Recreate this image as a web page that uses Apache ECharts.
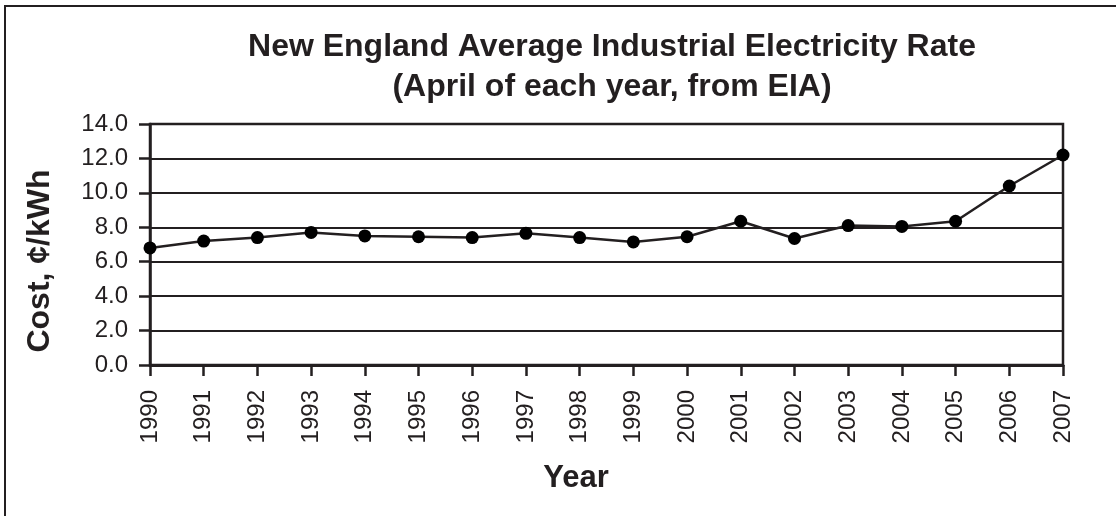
<!DOCTYPE html>
<html>
<head>
<meta charset="utf-8">
<script src="https://cdn.jsdelivr.net/npm/echarts@6/dist/echarts.min.js"></script>
<style>
html,body{margin:0;padding:0;background:#fff;}
#chart{width:1116px;height:516px;}
</style>
</head>
<body>
<div id="chart"></div>
<script>
const years = ['1990','1991','1992','1993','1994','1995','1996','1997','1998','1999','2000','2001','2002','2003','2004','2005','2006','2007'];
const costCents = [6.8, 7.2, 7.4, 7.7, 7.5, 7.45, 7.4, 7.65, 7.4, 7.15, 7.45, 8.35, 7.35, 8.1, 8.05, 8.35, 10.4, 12.2];
const titleText = 'New England Average Industrial Electricity Rate\n(April of each year, from EIA)';
const yAxisTitle = 'Cost, ¢/kWh';
const xAxisTitle = 'Year';

const ink = '#231f20';
const font = '"Liberation Sans", Arial, sans-serif';
const chart = echarts.init(document.getElementById('chart'));
chart.setOption({
  backgroundColor: '#ffffff',
  animation: false,
  title: {
    text: titleText,
    left: 612,
    top: 27,
    textAlign: 'center',
    padding: 0,
    textStyle: {fontFamily: font, fontSize: 32, fontWeight: 'bold', color: ink, lineHeight: 40, align: 'center'}
  },
  grid: {left: 150, right: 53, top: 124, bottom: 151, show: true, borderColor: ink, borderWidth: 2.5, backgroundColor: 'transparent'},
  xAxis: {
    type: 'category',
    data: years,
    boundaryGap: false,
    axisLine: {lineStyle: {color: ink, width: 3}},
    axisTick: {show: true, alignWithLabel: true, length: 11, inside: false, lineStyle: {color: ink, width: 2.5}},
    axisLabel: {rotate: 90, margin: 25, fontFamily: font, fontSize: 24, color: ink, interval: 0},
    splitLine: {show: false}
  },
  yAxis: {
    type: 'value',
    min: 0, max: 14, interval: 2,
    axisLine: {show: true, lineStyle: {color: ink, width: 2.5}},
    axisTick: {show: true, length: 11, lineStyle: {color: ink, width: 2.5}},
    axisLabel: {margin: 22, fontFamily: font, fontSize: 24, color: ink, formatter: v => v.toFixed(1)},
    splitLine: {show: true, lineStyle: {color: ink, width: 2}}
  },
  graphic: [
    {type: 'rect', shape: {x: 5, y: 6, width: 1200, height: 600}, style: {fill: 'none', stroke: ink, lineWidth: 2}, silent: true, z: 0},
    {type: 'text', x: 40, y: 261, rotation: Math.PI / 2,
      style: {text: yAxisTitle, fontFamily: font, fontSize: 32, fontWeight: 'bold', fill: ink, textAlign: 'center', textVerticalAlign: 'middle'}},
    {type: 'text', x: 576, y: 478,
      style: {text: xAxisTitle, fontFamily: font, fontSize: 31, fontWeight: 'bold', fill: ink, textAlign: 'center', textVerticalAlign: 'middle'}}
  ],
  series: [{
    type: 'line',
    data: costCents,
    symbol: 'circle',
    symbolSize: 13,
    itemStyle: {color: '#000000'},
    lineStyle: {color: ink, width: 2.5},
    clip: false,
    z: 5
  }]
});
</script>
</body>
</html>
